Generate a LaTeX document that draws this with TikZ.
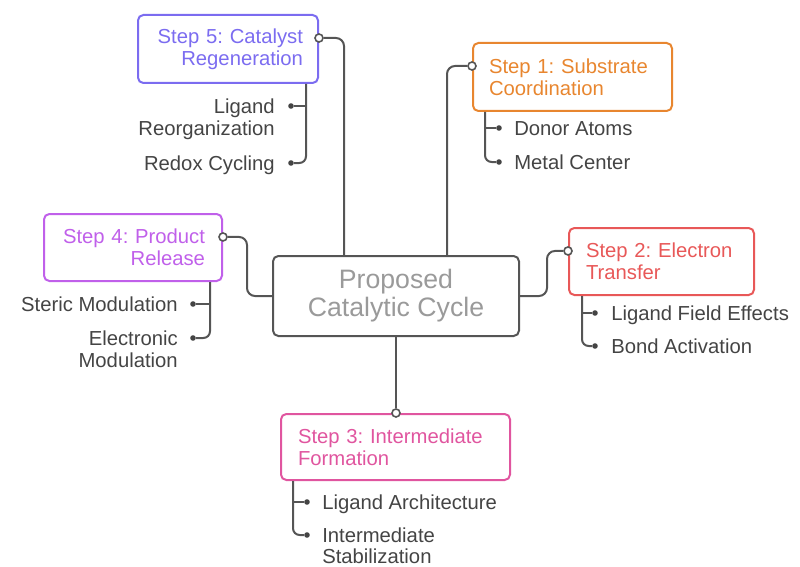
\documentclass[tikz,border=0pt]{standalone}
\usepackage{fontspec}
\setmainfont{Liberation Sans}
\usetikzlibrary{calc}
\definecolor{cfive}{HTML}{7B6CF0}
\definecolor{cfour}{HTML}{C060EA}
\definecolor{cone}{HTML}{E8862F}
\definecolor{ctwo}{HTML}{E85858}
\definecolor{cthree}{HTML}{E0559F}
\definecolor{cline}{HTML}{555555}
\definecolor{csub}{HTML}{444444}
\definecolor{ccentre}{HTML}{9A9A9A}
\frenchspacing
\hyphenpenalty=10000
\begin{document}
\frenchspacing
\hyphenpenalty=10000
\begin{tikzpicture}[x=0.75pt,y=-0.75pt,
  stepbox/.style={draw=#1, text=#1, line width=1.5pt, rounded corners=4pt,
    anchor=north west, font=\fontsize{15.2}{16.5}\selectfont, inner ysep=0pt},
  sub/.style={text=csub, font=\fontsize{15.2}{16.5}\selectfont, inner sep=0pt},
  conn/.style={draw=cline, line width=1.5pt, rounded corners=6pt},
  port/.style={circle, draw=cline, fill=white, line width=1.2pt, inner sep=0pt, minimum size=6pt},
  subdot/.style={circle, fill=csub, inner sep=0pt, minimum size=4.2pt}]
\useasboundingbox (0,0) rectangle (800,567);

% central node
\node[draw=cline, line width=1.5pt, rounded corners=4pt, anchor=north west,
  minimum width=184.5pt, minimum height=60pt, align=center, text=ccentre,
  font=\fontsize{20}{21}\selectfont] (cc) at (272,255) {Proposed\\Catalytic Cycle};

% step boxes
\node[stepbox=cfive, text width=112.5pt, align=right, inner xsep=11.25pt, minimum height=51pt] (s5) at (137,14) {Step 5: Catalyst\\Regeneration};
\node[stepbox=cone, text width=125.25pt, align=left, inner xsep=12pt, minimum height=51pt] (s1) at (472,42) {Step 1: Substrate\\Coordination};
\node[stepbox=cfour, text width=108pt, align=right, inner xsep=12.75pt, minimum height=50.25pt] (s4) at (43,213) {Step 4: Product\\Release};
\node[stepbox=ctwo, text width=113.25pt, align=left, inner xsep=12.75pt, minimum height=50.25pt] (s2) at (568,227) {Step 2: Electron\\Transfer};
\node[stepbox=cthree, text width=146.25pt, align=left, inner xsep=12.75pt, minimum height=49.5pt] (s3) at (280,413) {Step 3: Intermediate\\Formation};

% ports
\node[port] (p5) at ([yshift=8.25pt]s5.east) {};
\node[port] (p1) at ([yshift=8.25pt]s1.west) {};
\node[port] (p4) at ([yshift=7.9pt]s4.east) {};
\node[port] (p2) at ([yshift=7.9pt]s2.west) {};
\node[port] (p3) at (cc.south |- s3.north) {};

% main connectors
\draw[conn] ([xshift=-39pt]cc.north) |- (p5);
\draw[conn] ([xshift=38.25pt]cc.north) |- (p1);
\draw[conn] (cc.west) -- ++(-25,0) |- (p4);
\draw[conn] (cc.east) -- ++(27,0) |- (p2);
\draw[conn] (cc.south) -- (p3);

% sub-item dots
\node[subdot] (d5a) at (291,106) {};
\node[subdot] (d5b) at (291,163) {};
\node[subdot] (d1a) at (499,128) {};
\node[subdot] (d1b) at (499,162) {};
\node[subdot] (d4a) at (193,304) {};
\node[subdot] (d4b) at (193,338) {};
\node[subdot] (d2a) at (595,313) {};
\node[subdot] (d2b) at (595,346) {};
\node[subdot] (d3a) at (307,502) {};
\node[subdot] (d3b) at (307,535) {};

% sub-item branches
\coordinate (v5) at ([xshift=-9.75pt]s5.south east);
\draw[conn, rounded corners=5pt] (v5) |- (d5b);
\draw[conn] (v5 |- d5a) -- (d5a);
\coordinate (v1) at ([xshift=9.75pt]s1.south west);
\draw[conn, rounded corners=5pt] (v1) |- (d1b);
\draw[conn] (v1 |- d1a) -- (d1a);
\coordinate (v4) at ([xshift=-9.75pt]s4.south east);
\draw[conn, rounded corners=5pt] (v4) |- (d4b);
\draw[conn] (v4 |- d4a) -- (d4a);
\coordinate (v2) at ([xshift=10.5pt]s2.south west);
\draw[conn, rounded corners=5pt] (v2) |- (d2b);
\draw[conn] (v2 |- d2a) -- (d2a);
\coordinate (v3) at ([xshift=9.75pt]s3.south west);
\draw[conn, rounded corners=5pt] (v3) |- (d3b);
\draw[conn] (v3 |- d3a) -- (d3a);

% sub-item texts
\node[sub, anchor=base east, text width=110pt, align=right] (t5a) at ([xshift=-12pt,yshift=-5.5pt]d5a) {Ligand\\Reorganization};
\node[sub, anchor=base east] (t5b) at ([xshift=-12pt,yshift=-5.5pt]d5b) {Redox Cycling};
\node[sub, anchor=base west] (t1a) at ([xshift=11.25pt,yshift=-5.5pt]d1a) {Donor Atoms};
\node[sub, anchor=base west] (t1b) at ([xshift=11.25pt,yshift=-5.5pt]d1b) {Metal Center};
\node[sub, anchor=base east] (t4a) at ([xshift=-11.25pt,yshift=-5.5pt]d4a) {Steric Modulation};
\node[sub, anchor=base east, text width=100pt, align=right] (t4b) at ([xshift=-11.25pt,yshift=-5.5pt]d4b) {Electronic\\Modulation};
\node[sub, anchor=base west] (t2a) at ([xshift=12pt,yshift=-5.5pt]d2a) {Ligand Field Effects};
\node[sub, anchor=base west] (t2b) at ([xshift=12pt,yshift=-5.5pt]d2b) {Bond Activation};
\node[sub, anchor=base west] (t3a) at ([xshift=11.25pt,yshift=-5.5pt]d3a) {Ligand Architecture};
\node[sub, anchor=base west, text width=110pt, align=left, font=\fontsize{15.2}{15.8}\selectfont] (t3b) at ([xshift=11.25pt,yshift=-5.5pt]d3b) {Intermediate\\Stabilization};
\end{tikzpicture}
\end{document}
